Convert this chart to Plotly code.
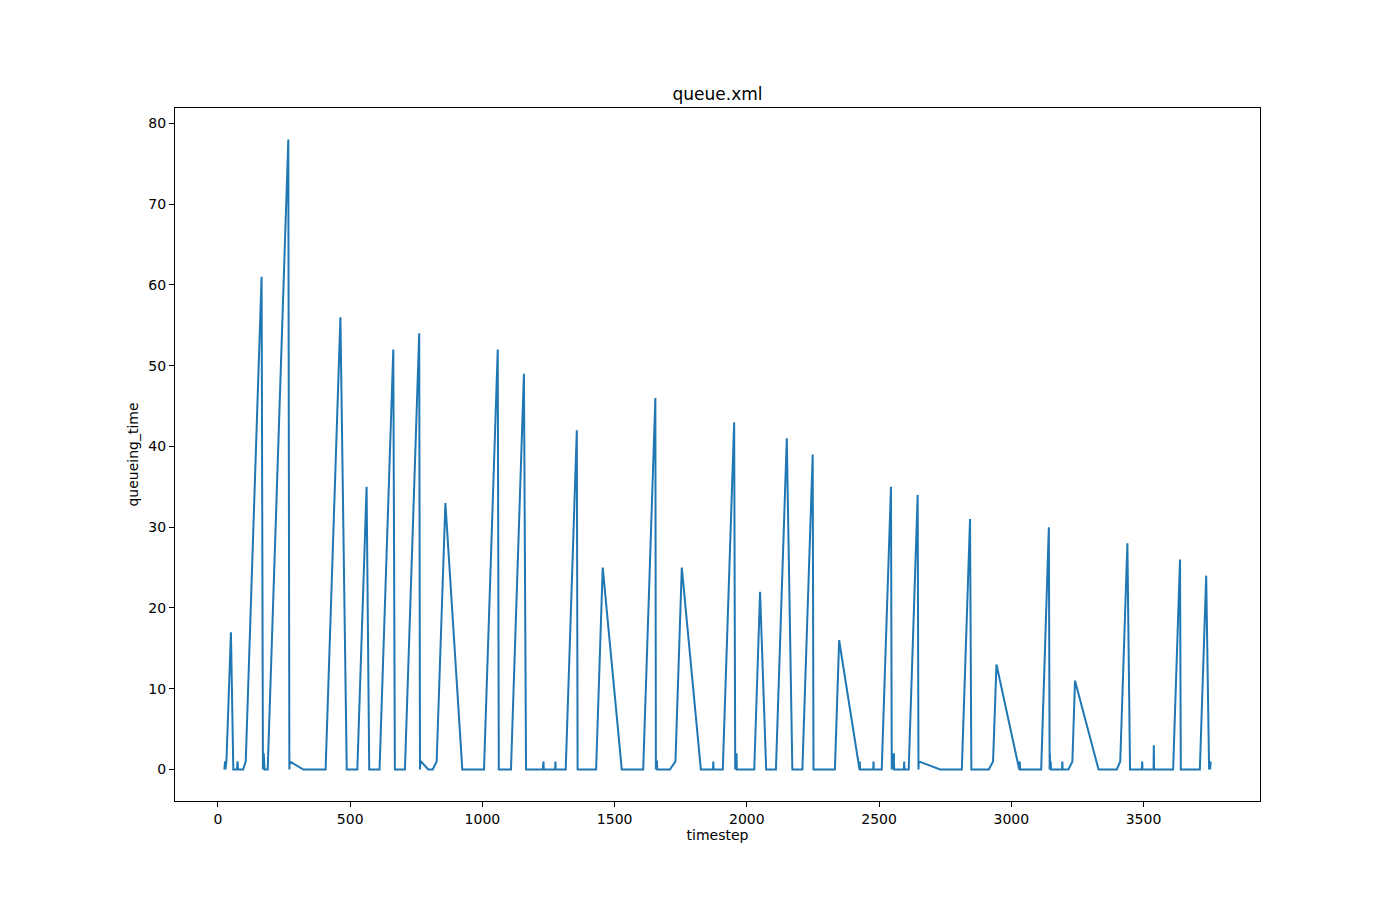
import plotly.graph_objects as go

timestep = [
    24, 25, 26, 27, 28, 32, 49, 58, 72, 74, 76, 95, 105, 165, 170, 173, 176, 188, 266, 270, 271, 323,
    407, 463, 487, 527, 562, 572, 611, 663, 669, 707, 761, 764, 765, 768, 795, 812, 827, 860, 924,
    1006, 1058, 1062, 1108, 1157, 1165, 1228, 1229, 1230, 1231, 1232, 1275, 1276, 1277,
    1315, 1357, 1360, 1430, 1455, 1527, 1608, 1654, 1656, 1657, 1660, 1661, 1709, 1730, 1754, 1826,
    1872, 1873, 1874, 1909, 1952, 1956, 1961, 1962, 2028, 2050, 2073, 2110, 2151, 2172,
    2210, 2249, 2252, 2333, 2349, 2426, 2427, 2428, 2478, 2479, 2480,
    2510, 2545, 2548, 2552, 2553, 2556, 2557, 2594, 2595, 2596, 2612, 2646, 2649, 2650, 2731,
    2813, 2844, 2849, 2915, 2931, 2944, 3030, 3032, 3033,
    3113, 3142, 3145, 3146, 3147, 3149, 3150, 3192, 3193, 3194, 3216, 3231, 3241, 3330,
    3399, 3412, 3439, 3449, 3494, 3495, 3496, 3538, 3539, 3540, 3612, 3638, 3641,
    3713, 3737, 3745, 3747, 3748, 3750, 3752, 3754,
]
queueing_time = [
    0, 1, 0, 1, 0, 1, 17, 0, 0, 1, 0, 0, 1, 61, 0, 2, 0, 0, 78, 0, 1, 0,
    0, 56, 0, 0, 35, 0, 0, 52, 0, 0, 54, 0, 1, 1, 0, 0, 1, 33, 0,
    0, 52, 0, 0, 49, 0, 0, 1, 0, 1, 0, 0, 1, 0,
    0, 42, 0, 0, 25, 0, 0, 46, 0, 1, 1, 0, 0, 1, 25, 0,
    0, 1, 0, 0, 43, 0, 2, 0, 0, 22, 0, 0, 41, 0,
    0, 39, 0, 0, 16, 0, 1, 0, 0, 1, 0,
    0, 35, 0, 2, 0, 2, 0, 0, 1, 0, 0, 34, 0, 1, 0,
    0, 31, 0, 0, 1, 13, 0, 1, 0,
    0, 30, 0, 2, 0, 1, 0, 0, 1, 0, 0, 1, 11, 0,
    0, 1, 28, 0, 0, 1, 0, 0, 3, 0, 0, 26, 0,
    0, 24, 1, 3, 0, 1, 0, 1,
]

x_ticks = [0, 500, 1000, 1500, 2000, 2500, 3000, 3500]
y_ticks = [0, 10, 20, 30, 40, 50, 60, 70, 80]

xmin, xmax = min(timestep), max(timestep)
ymin, ymax = min(queueing_time), max(queueing_time)
xpad = 0.05 * (xmax - xmin)
ypad = 0.05 * (ymax - ymin)

FONT = "DejaVu Sans"

fig = go.Figure()
fig.add_trace(go.Scatter(
    x=timestep, y=queueing_time, mode="lines",
    line=dict(color="#1f77b4", width=2),
    showlegend=False,
))

axis_common = dict(
    showline=True, mirror=True, linecolor="black", linewidth=1,
    ticks="outside", ticklen=5, tickwidth=1, tickcolor="black",
    showgrid=False, zeroline=False,
    tickfont=dict(family=FONT, size=14, color="black"),
)

fig.update_layout(
    width=1392, height=892,
    margin=dict(l=167, r=140, t=100, b=99),
    paper_bgcolor="white", plot_bgcolor="white",
    title=dict(text="queue.xml", x=0.5, xanchor="center", xref="paper",
               y=1, yref="paper", yanchor="bottom", pad=dict(b=8),
               font=dict(family=FONT, size=17, color="black")),
    xaxis=dict(range=[xmin - xpad, xmax + xpad], tickvals=x_ticks,
               title=dict(text="timestep", standoff=4,
                          font=dict(family=FONT, size=14, color="black")),
               **axis_common),
    yaxis=dict(range=[ymin - ypad, ymax + ypad], tickvals=y_ticks,
               title=dict(text="queueing_time", standoff=6,
                          font=dict(family=FONT, size=14, color="black")),
               **axis_common),
)

fig.write_html("out.html")
